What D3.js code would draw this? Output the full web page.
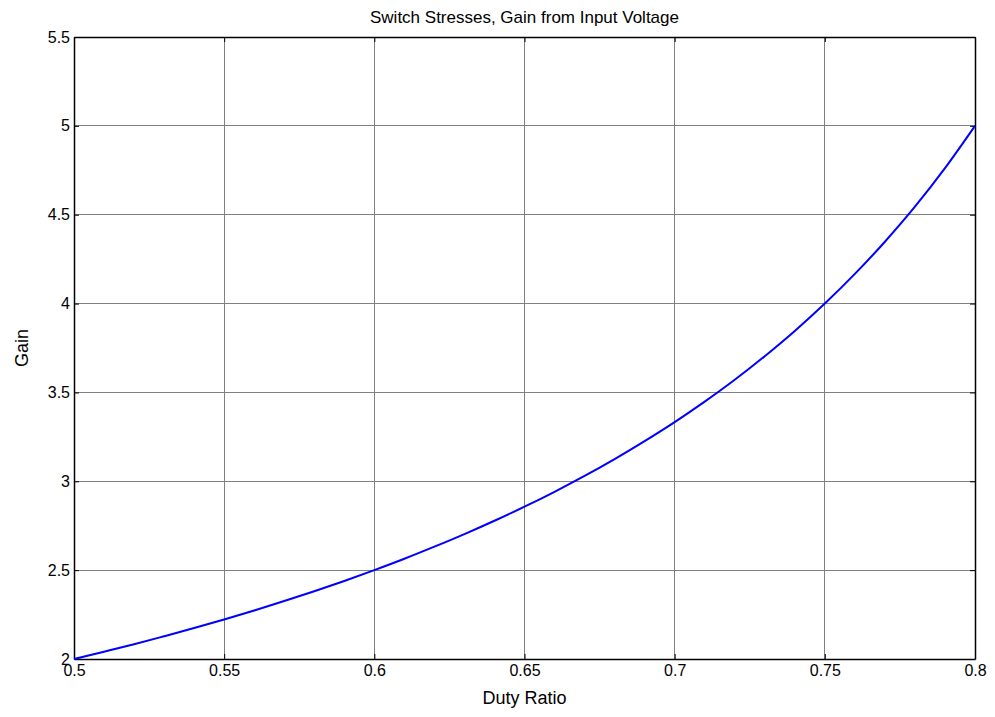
<!DOCTYPE html>
<html>
<head>
<meta charset="utf-8">
<script src="https://cdn.jsdelivr.net/npm/d3@7"></script>
<style>
  body { margin: 0; background: #fff; }
  text { font-family: "Liberation Sans", Arial, sans-serif; fill: #000; }
</style>
</head>
<body>
<div id="plot"></div>
<script>
// values
var duty = [0.50, 0.51, 0.52, 0.53, 0.54, 0.55, 0.56, 0.57, 0.58, 0.59, 0.60,
            0.61, 0.62, 0.63, 0.64, 0.65, 0.66, 0.67, 0.68, 0.69, 0.70,
            0.71, 0.72, 0.73, 0.74, 0.75, 0.76, 0.77, 0.78, 0.79, 0.80];
var gain = [2.000, 2.041, 2.083, 2.128, 2.174, 2.222, 2.273, 2.326, 2.381, 2.439, 2.500,
            2.564, 2.632, 2.703, 2.778, 2.857, 2.941, 3.030, 3.125, 3.226, 3.333,
            3.448, 3.571, 3.704, 3.846, 4.000, 4.167, 4.348, 4.545, 4.762, 5.000];
var xTicks = [0.5, 0.55, 0.6, 0.65, 0.7, 0.75, 0.8];
var yTicks = [2, 2.5, 3, 3.5, 4, 4.5, 5, 5.5];

var W = 995, H = 717;
var m = {left: 74, right: 20, top: 37, bottom: 58};

var svg = d3.select("#plot").append("svg")
    .attr("width", W)
    .attr("height", H);

var x = d3.scaleLinear().domain([0.5, 0.8]).range([m.left, W - m.right]);
var y = d3.scaleLinear().domain([2, 5.5]).range([H - m.bottom, m.top]);

// grid
svg.append("g").selectAll("line.vg")
    .data(xTicks).enter().append("line")
    .attr("x1", function(d){ return x(d); })
    .attr("x2", function(d){ return x(d); })
    .attr("y1", y(2)).attr("y2", y(5.5))
    .style("stroke", "#808080").style("stroke-width", 1).attr("shape-rendering", "crispEdges");
svg.append("g").selectAll("line.hg")
    .data(yTicks).enter().append("line")
    .attr("x1", x(0.5)).attr("x2", x(0.8))
    .attr("y1", function(d){ return y(d); })
    .attr("y2", function(d){ return y(d); })
    .style("stroke", "#808080").style("stroke-width", 1).attr("shape-rendering", "crispEdges");

// axes with inward ticks
var xAxisB = d3.axisBottom(x).tickValues(xTicks).tickSizeInner(-5).tickSizeOuter(0)
    .tickFormat(function(d){ return d3.format("")(+d.toFixed(2)); });
var xAxisT = d3.axisTop(x).tickValues(xTicks).tickSizeInner(-5).tickSizeOuter(0).tickFormat("");
var yAxisL = d3.axisLeft(y).tickValues(yTicks).tickSizeInner(-5).tickSizeOuter(0)
    .tickFormat(function(d){ return d3.format("")(d); });
var yAxisR = d3.axisRight(y).tickValues(yTicks).tickSizeInner(-5).tickSizeOuter(0).tickFormat("");

function styleAxis(g) {
  g.select(".domain").style("stroke", "#000").style("stroke-width", 1.5);
  g.selectAll(".tick line").style("stroke", "#000");
  g.selectAll(".tick text").style("font-size", "16px")
    .style("font-family", "'Liberation Sans', Arial, sans-serif").style("fill", "#000");
}

svg.append("g").attr("transform", "translate(0," + y(2) + ")").call(xAxisB).call(styleAxis)
  .selectAll(".tick text").attr("dy", "0.85em").attr("y", 3);
svg.append("g").attr("transform", "translate(0," + y(5.5) + ")").call(xAxisT).call(styleAxis);
svg.append("g").attr("transform", "translate(" + x(0.5) + ",0)").call(yAxisL).call(styleAxis)
  .selectAll(".tick text").attr("x", -4);
svg.append("g").attr("transform", "translate(" + x(0.8) + ",0)").call(yAxisR).call(styleAxis);

// curve
var line = d3.line()
    .x(function(d, i){ return x(duty[i]); })
    .y(function(d){ return y(d); })
    .curve(d3.curveMonotoneX);

svg.append("path")
    .datum(gain)
    .attr("d", line)
    .style("fill", "none")
    .style("stroke", "#0000ff")
    .style("stroke-width", 2);

// labels
svg.append("text")
    .attr("x", (x(0.5) + x(0.8)) / 2)
    .attr("y", 23)
    .attr("text-anchor", "middle")
    .style("font-size", "17px")
    .text("Switch Stresses, Gain from Input Voltage");

svg.append("text")
    .attr("x", (x(0.5) + x(0.8)) / 2)
    .attr("y", 704)
    .attr("text-anchor", "middle")
    .style("font-size", "18px")
    .text("Duty Ratio");

svg.append("text")
    .attr("transform", "translate(28," + ((y(2) + y(5.5)) / 2) + ") rotate(-90)")
    .attr("text-anchor", "middle")
    .style("font-size", "18px")
    .text("Gain");
</script>
</body>
</html>
